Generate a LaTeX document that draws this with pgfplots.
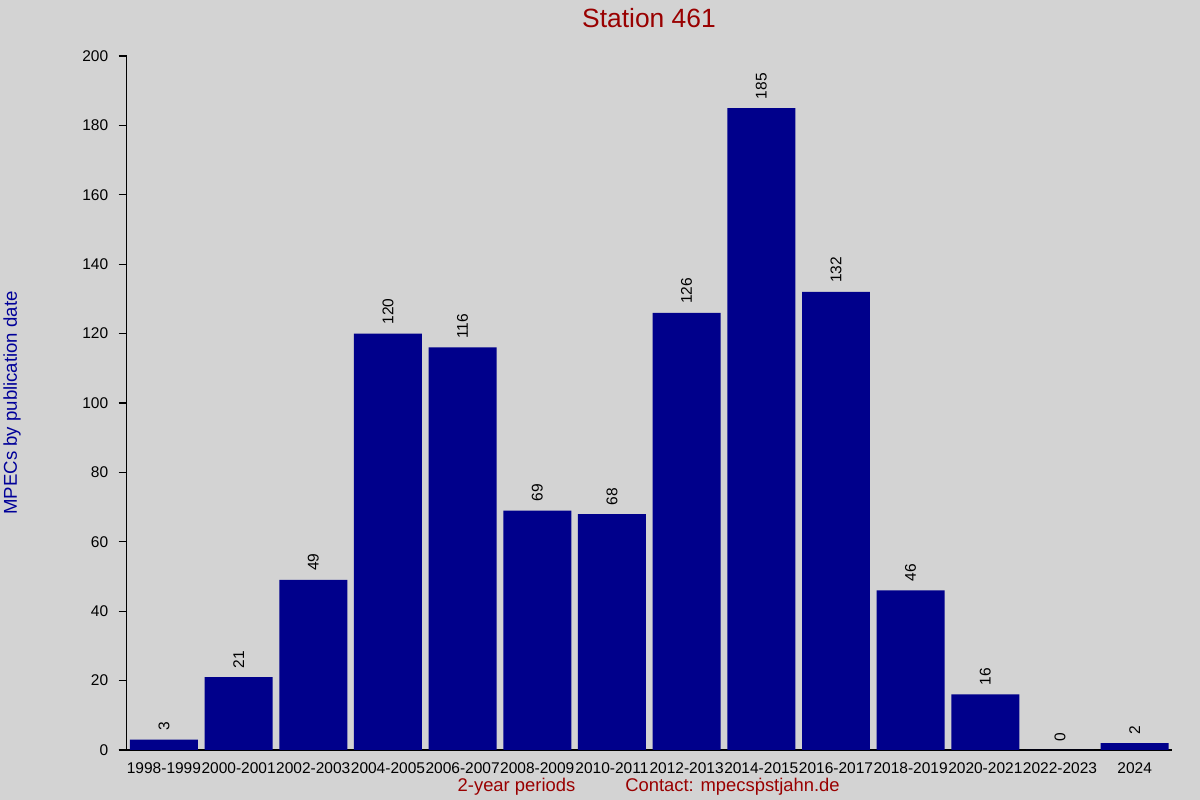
\documentclass[border=0pt]{standalone}
\usepackage{pgfplots}
\pgfplotsset{compat=1.18}
\usepackage{fontspec}
\setmainfont{Liberation Sans}
\definecolor{bg}{HTML}{D3D3D3}
\definecolor{barblue}{HTML}{00008B}
\definecolor{titlered}{HTML}{990000}
\definecolor{labblue}{HTML}{000099}
\begin{document}
\begin{tikzpicture}
\fill[bg] (0,0) rectangle (600bp,400bp);
\useasboundingbox (0,0) rectangle (600bp,400bp);
\begin{axis}[
  at={(63.3bp,25bp)}, anchor=south west,
  scale only axis, width=522.7bp, height=347bp,
  xmin=-0.5, xmax=13.5, ymin=0, ymax=200,
  axis lines=left, axis line style={-, black, line width=0.6bp},
  ybar, bar width=0.91, bar shift=0pt,
  xtick={0,...,13},
  xticklabels={1998-1999,2000-2001,2002-2003,2004-2005,2006-2007,2008-2009,2010-2011,2012-2013,2014-2015,2016-2017,2018-2019,2020-2021,2022-2023,2024},
  xtick style={draw=none},
  ytick={0,20,...,200},
  tick align=outside,
  major tick length=4bp,
  ytick style={black, line width=0.6bp},
  /pgf/number format/assume math mode=true,
  ticklabel style={font=\fontsize{7.75bp}{9bp}\selectfont, black},
  xticklabel style={inner sep=1pt, yshift=-1bp},
  yticklabel style={inner sep=0pt, xshift=-5bp},
  nodes near coords,
  every node near coord/.append style={rotate=90, anchor=west, inner sep=4.3bp, font=\fontsize{7.75bp}{9bp}\selectfont, black},
  clip=false,
]
\addplot[fill=barblue, draw=none] coordinates {
(0,3) (1,21) (2,49) (3,120) (4,116) (5,69) (6,68) (7,126) (8,185) (9,132) (10,46) (11,16) (12,0) (13,2)
};
\draw[black, line width=0.6bp] ([xshift=-4bp]axis cs:-0.5,0) -- (axis cs:-0.5,0);
\end{axis}
\node[anchor=base, text=titlered, font=\fontsize{13.2bp}{15bp}\selectfont, inner sep=0pt] at (324.5bp,386bp) {Station 461};
\node[anchor=base, text=titlered, font=\fontsize{9.2bp}{11bp}\selectfont, inner sep=0pt] at (258.25bp,4.5bp) {2-year periods};
\node[anchor=base, text=titlered, font=\fontsize{9.2bp}{11bp}\selectfont, inner sep=0pt] at (366.25bp,4.5bp) {Contact: mpecsṗstjahn.de};
\node[rotate=90, text=labblue, font=\fontsize{9.3bp}{11bp}\selectfont, inner sep=0pt] at (6bp,198.5bp) {MPECs by publication date};
\end{tikzpicture}
\end{document}
